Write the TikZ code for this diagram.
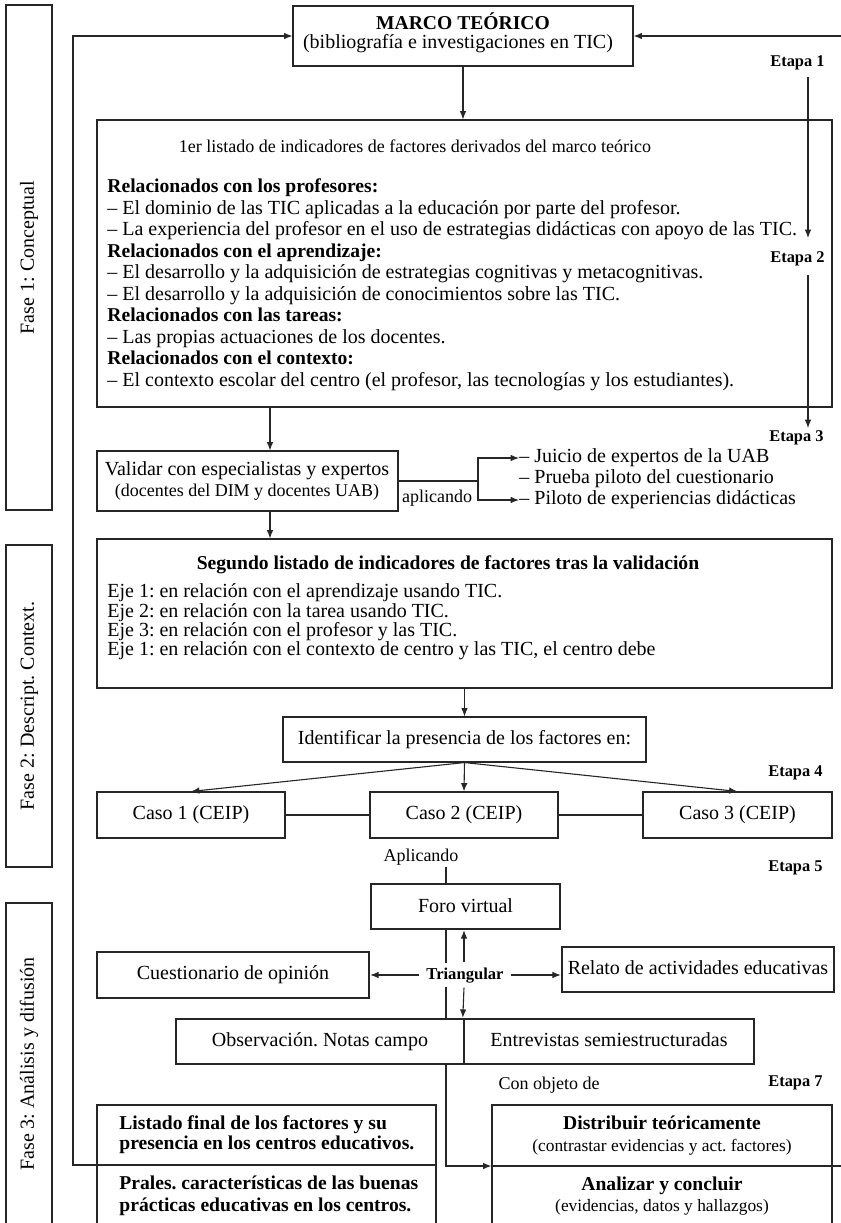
\documentclass[tikz,border=0pt]{standalone}
\usepackage{fontspec}
\setmainfont{Liberation Serif}
\usetikzlibrary{arrows.meta,fit}
\definecolor{lc}{gray}{0.15}
\frenchspacing
\begin{document}
\frenchspacing
\begin{tikzpicture}[x=0.5pt,y=-0.5pt,
  bx/.style={draw=lc,line width=0.55pt,fill=white,inner sep=0pt},
  tbx/.style={draw=lc,line width=1.2pt,fill=white,inner sep=0pt},
  ln/.style={draw=lc,line width=0.55pt},
  arr/.style={ln,-{Latex[length=4.2pt,width=3.3pt]}},
  tx/.style={inner sep=0pt,text height=7pt,text depth=2.2pt,font=\fontsize{10}{12}\selectfont},
  btx/.style={inner sep=0pt,text height=7pt,text depth=2.2pt,font=\fontsize{9.8}{12}\selectfont\bfseries},
  stx/.style={inner sep=0pt,text height=6.3pt,text depth=2pt,font=\fontsize{9}{11}\selectfont},
  sstx/.style={inner sep=0pt,text height=6.1pt,text depth=1.9pt,font=\fontsize{8.7}{10}\selectfont},
  etapa/.style={inner sep=0pt,anchor=east,text height=5.8pt,text depth=1.8pt,font=\fontsize{8.2}{10}\selectfont\bfseries},
]
\useasboundingbox (0,0) rectangle (841,1223);

% phase boxes
\node[bx,fit={(6,5)(52,510)}] (f1) {};
\node[tx,rotate=90] (f1t) at (f1.center) {Fase 1: Conceptual};
\node[bx,fit={(6,545)(52,867)}] (f2) {};
\node[tx,rotate=90] (f2t) at (f2.center) {Fase 2: Descript. Context.};
\node[bx,fit={(6,903)(52,1240)}] (f3) {};
\node[tx,rotate=90] (f3t) at (29,1064) {Fase 3: Análisis y difusión};

% main boxes
\node[bx,fit={(293,6)(633,66)}] (marco) {};
\node[bx,fit={(97,120)(832,407)}] (b1) {};
\node[bx,fit={(97,451)(398,511)}] (val) {};
\node[bx,fit={(97,539)(832,688)}] (s2) {};
\node[bx,fit={(283,717)(646,762)}] (idf) {};
\node[bx,fit={(97,792)(285,838)}] (c1) {};
\node[bx,fit={(370,792)(558,838)}] (c2) {};
\node[bx,fit={(643,792)(832,838)}] (c3) {};
\node[tbx,fit={(371,884)(560,929)}] (foro) {};
\node[tbx,fit={(97,952)(369,998)}] (cue) {};
\node[tbx,fit={(562,947)(834,992)}] (rel) {};
\node[bx,fit={(97,1105)(436,1250)}] (lb) {};
\node[bx,fit={(492,1105)(832,1250)}] (rb) {};

% long line from Aplicando through the foro down to the final box
\coordinate (apbot) at (446,867);
\coordinate (fbr2) at (841,1166);
\draw[ln] (apbot) -- (foro.north -| apbot);
\draw[arr] (foro.south -| apbot) -- (apbot |- fbr2) -- (rb.west |- fbr2);

\node[tbx,fit={(176,1019)(464,1064)}] (obs) {};
\node[tbx,fit={(464,1019)(754,1064)}] (ent) {};
\node[btx,fill=white,text height=5.8pt,text depth=1.8pt,inner xsep=3.4pt,inner ysep=2.3pt,font=\fontsize{8.3}{10}\selectfont\bfseries] (tri) at (465,975) {Triangular};

% texts
\node[btx] (marcot) at (463,25) {MARCO TEÓRICO};
\node[tx] (marcos) at (458,44) {(bibliografía e investigaciones en TIC)};

\node[stx] (b1t) at (415,148) {1er listado de indicadores de factores derivados del marco teórico};
\node[btx,anchor=west] (b1l1) at (107,188) {Relacionados con los profesores:};
\node[tx,anchor=west] (b1l2) at (107,209.5) {– El dominio de las TIC aplicadas a la educación por parte del profesor.};
\node[tx,anchor=west] (b1l3) at (107,231) {– La experiencia del profesor en el uso de estrategias didácticas con apoyo de las TIC.};
\node[btx,anchor=west] (b1l4) at (107,252.5) {Relacionados con el aprendizaje:};
\node[tx,anchor=west] (b1l5) at (107,274) {– El desarrollo y la adquisición de estrategias cognitivas y metacognitivas.};
\node[tx,anchor=west] (b1l6) at (107,295.5) {– El desarrollo y la adquisición de conocimientos sobre las TIC.};
\node[btx,anchor=west] (b1l7) at (107,317) {Relacionados con las tareas:};
\node[tx,anchor=west] (b1l8) at (107,338.5) {– Las propias actuaciones de los docentes.};
\node[btx,anchor=west] (b1l9) at (107,360) {Relacionados con el contexto:};
\node[tx,anchor=west] (b1l10) at (107,381.5) {– El contexto escolar del centro (el profesor, las tecnologías y los estudiantes).};

\node[tx] (valt) at (247,471) {Validar con especialistas y expertos};
\node[stx] (vals) at (247,492) {(docentes del DIM y docentes UAB)};
\node[stx] (aplt2) at (437,498) {aplicando};
\node[tx,anchor=west] (j1) at (519,458) {– Juicio de expertos de la UAB};
\node[tx,anchor=west] (j2) at (519,479) {– Prueba piloto del cuestionario};
\node[tx,anchor=west] (j3) at (519,500) {– Piloto de experiencias didácticas};

\node[btx] (s2t) at (448,565) {Segundo listado de indicadores de factores tras la validación};
\node[tx,anchor=west] (s2l1) at (107,593) {Eje 1: en relación con el aprendizaje usando TIC.};
\node[tx,anchor=west] (s2l2) at (107,613) {Eje 2: en relación con la tarea usando TIC.};
\node[tx,anchor=west] (s2l3) at (107,632) {Eje 3: en relación con el profesor y las TIC.};
\node[tx,anchor=west] (s2l4) at (107,651) {Eje 1: en relación con el contexto de centro y las TIC, el centro debe};

\node[tx] (idft) at (idf.center) {Identificar la presencia de los factores en:};
\node[tx] (c1t) at (c1.center) {Caso 1 (CEIP)};
\node[tx] (c2t) at (c2.center) {Caso 2 (CEIP)};
\node[tx] (c3t) at (c3.center) {Caso 3 (CEIP)};
\node[stx] (aplt) at (421,857) {Aplicando};
\node[tx] (forot) at (465.5,908) {Foro virtual};
\node[tx] (cuet) at (cue.center) {Cuestionario de opinión};
\node[tx] (relt) at (rel.center) {Relato de actividades educativas};
\node[tx] (obst) at (obs.center) {Observación. Notas campo};
\node[tx] (entt) at (ent.center) {Entrevistas semiestructuradas};
\node[stx] (cod) at (549,1085) {Con objeto de};

\node[btx,anchor=west] (lbt1) at (119,1125) {Listado final de los factores y su};
\node[btx,anchor=west] (lbt2) at (119,1145) {presencia en los centros educativos.};
\node[btx,anchor=west] (lbt3) at (119,1185) {Prales. características de las buenas};
\node[btx,anchor=west] (lbt4) at (119,1207) {prácticas educativas en los centros.};

\node[btx] (rbt1) at (662,1125) {Distribuir teóricamente};
\node[sstx] (rbs1) at (662,1147) {(contrastar evidencias y act. factores)};
\node[btx] (rbt2) at (662,1186) {Analizar y concluir};
\node[sstx] (rbs2) at (662,1207) {(evidencias, datos y hallazgos)};

% etapa labels
\node[etapa] (et1) at (825,62) {Etapa 1};
\node[etapa] (et2) at (825,258) {Etapa 2};
\node[etapa] (et3) at (824,437) {Etapa 3};
\node[etapa] (et4) at (823,772) {Etapa 4};
\node[etapa] (et5) at (823,867) {Etapa 5};
\node[etapa] (et7) at (823,1082) {Etapa 7};

% connectors
\coordinate (fbl) at (73,1165);
\coordinate (fbr) at (841,36);
\draw[ln] (lb.west |- fbl) -- (lb.east |- fbl);
\draw[arr] (lb.west |- fbl) -- (fbl) |- (marco.west);
\draw[arr] (fbr) -- (marco.east);
\draw[ln] (rb.west |- fbr2) -- (fbr2);

\draw[arr] (marco.south) -- (marco.south |- b1.north);
\coordinate (vx) at (270,0);
\draw[arr] (b1.south -| vx) -- (val.north -| vx);
\draw[arr] (val.south -| vx) -- (s2.north -| vx);
\coordinate (ap) at (478,481);
\draw[ln] (val.east) -- (ap);
\draw[arr] (ap) |- (j1.west);
\draw[arr] (ap) |- (j3.west);

\draw[arr] (s2.south -| idf.north) -- (idf.north);
\draw[arr] (idf.south) -- (c1.north);
\draw[arr] (idf.south) -- (c2.north);
\draw[arr] (idf.south) -- (c3.north);
\draw[ln] (c1) -- (c2);
\draw[ln] (c2) -- (c3);

\coordinate (tv) at (464,0);
\draw[arr] (tri.west) -- (tri.west -| cue.east);
\draw[arr] (tri.east) -- (tri.east -| rel.west);
\draw[arr] (tri.north -| tv) -- (foro.south -| tv);
\draw[arr] (tri.south -| tv) -- (ent.north west);

\coordinate (e1a) at (808,77);
\coordinate (e1b) at (808,238);
\coordinate (e2a) at (808,275);
\coordinate (e2b) at (808,428);
\draw[arr] (e1a) -- (e1b);
\draw[arr] (e2a) -- (e2b);
\end{tikzpicture}
\end{document}
